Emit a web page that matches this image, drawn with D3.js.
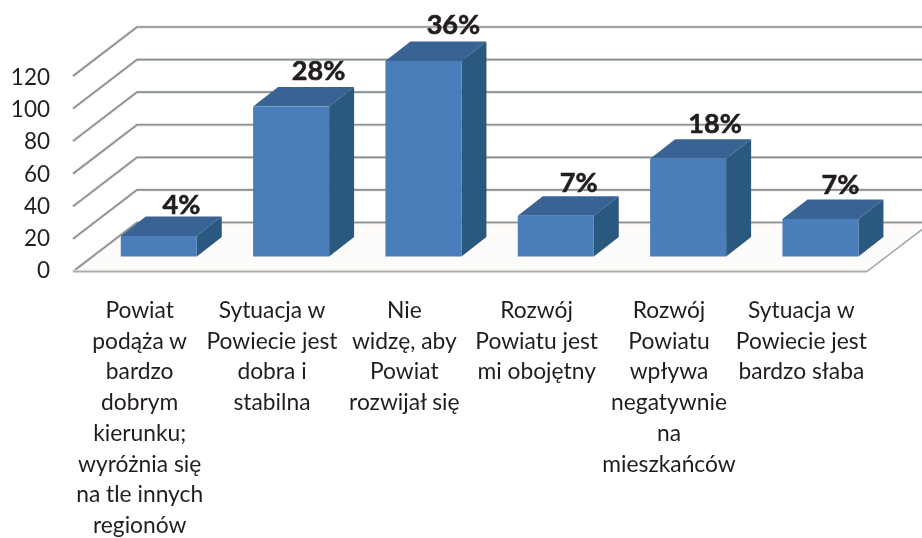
<!DOCTYPE html>
<html><head><meta charset="utf-8">
<script src="https://cdn.jsdelivr.net/npm/d3@7/dist/d3.min.js"></script>
<style>html,body{margin:0;background:#fff}svg{display:block}text{font-family:Lato,"Open Sans",sans-serif;fill:#231f20}</style>
</head><body><svg id="c" width="922" height="538"></svg>
<script>
const categories=[
 ["Powiat","podąża w","bardzo","dobrym","kierunku;","wyróżnia się","na tle innych","regionów"],
 ["Sytuacja w","Powiecie jest","dobra i","stabilna"],
 ["Nie","widzę, aby","Powiat","rozwijał się"],
 ["Rozwój","Powiatu jest","mi obojętny"],
 ["Rozwój","Powiatu","wpływa","negatywnie","na","mieszkańców"],
 ["Sytuacja w","Powiecie jest","bardzo słaba"]];
const values=[12.6,92,120,25,60,23];
const percentLabels=["4%","28%","36%","7%","18%","7%"];
const yTicks=[0,20,40,60,80,100,120];

const svg=d3.select("#c");
const defs=svg.append("defs");
defs.append("filter").attr("id","soft").append("feGaussianBlur").attr("stdDeviation",0.45);
const root=svg.append("g").attr("filter","url(#soft)");
const x0=73,x1=867,y0=271.5,yTop=76,depthX=64,depthY=49;
const idx=d3.range(categories.length);
const x=d3.scaleBand().domain(idx).range([x0,x1]);
const y=d3.scaleLinear().domain([0,120]).range([y0,yTop]);
const yLabel=d3.scaleLinear().domain([0,120]).range([278,85]);
const barW=76, barDX=25, barDY=19.5, offX=19.6, offY=15;
const line=d3.line();

// floor
root.append("path").attr("fill","#fefcfb")
 .attr("d",line([[x0,y0],[x0+depthX,y0-depthY],[922,y0-depthY],[922,y0-depthY+3],[x1,y0]])+"Z");
// grid
const gridCol="#7d9399", halo="#f3e3de";
yTicks.forEach(t=>{
  const yy=y(t);
  const g=root.append("g");
  [[halo,3.4],[gridCol,1.6]].forEach(([c,w])=>{
    g.append("path").attr("fill","none").attr("stroke",c).attr("stroke-width",w)
     .attr("d",line([[x0,yy],[x0+depthX,yy-depthY],[922,yy-depthY]]));
  });
});
// front floor edge
root.append("path").attr("fill","none").attr("stroke",halo).attr("stroke-width",3.4)
 .attr("d",line([[x0,y0],[x1,y0]]));
root.append("path").attr("fill","none").attr("stroke","#a3aeae").attr("stroke-width",1.6)
 .attr("d",line([[x0,y0],[x1,y0],[922,y0-42]]));

// bars
const bars=root.append("g").selectAll("g").data(idx).join("g");
const bx=i=>x(i)+x.bandwidth()/2+offX-barW/2;
const by=v=>y(v)-offY;
const base=y(0)-offY;
bars.append("path").attr("fill","#386494")
 .attr("d",i=>{const l=bx(i),t=by(values[i]);return line([[l,t],[l+barDX,t-barDY],[l+barW+barDX,t-barDY],[l+barW,t]])+"Z"});
bars.append("path").attr("fill","#2c587f")
 .attr("d",i=>{const l=bx(i)+barW,t=by(values[i]);return line([[l,t],[l+barDX,t-barDY],[l+barDX,base-barDY],[l,base]])+"Z"});
bars.append("rect").attr("fill","#4a7ebb")
 .attr("x",bx).attr("y",i=>by(values[i])).attr("width",barW).attr("height",i=>base-by(values[i]));
// value labels, nudged individually as in the source
const nudgeX=[22.7,27.5,30,23,27,20], nudgeY=[22,27,27,23.5,25.5,25.5];
bars.append("text").text(i=>percentLabels[i]).attr("text-anchor","middle")
 .attr("x",i=>bx(i)+barW/2+nudgeX[i]).attr("y",i=>by(values[i])-nudgeY[i])
 .attr("font-size",27).attr("font-weight",700)
 .attr("stroke","#231f20").attr("stroke-width",0.6);

// y labels
root.append("g").selectAll("text").data(yTicks).join("text").text(d=>d)
 .attr("x",50).attr("y",d=>yLabel(d)).attr("text-anchor","end").attr("font-size",22.5);

// category labels
const lab=root.append("g").selectAll("text").data(idx).join("text")
 .attr("text-anchor","middle").attr("font-size",22.8);
lab.each(function(i){
  const cx=x(i)+x.bandwidth()/2+0.5;
  d3.select(this).selectAll("tspan").data(categories[i]).join("tspan")
   .attr("x",cx).attr("y",(d,k)=>318+k*30.7).text(d=>d);
});
</script></body></html>
